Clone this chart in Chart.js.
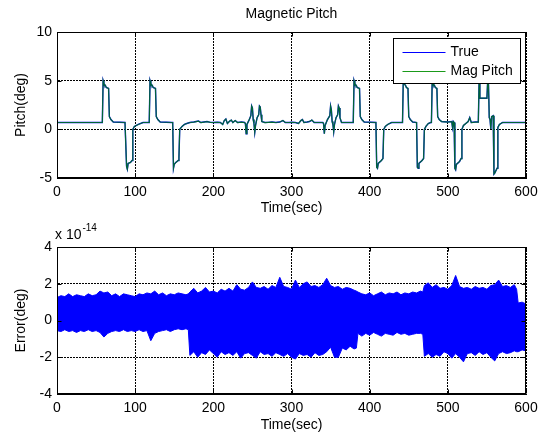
<!DOCTYPE html>
<html>
<head>
<meta charset="utf-8">
<script src="https://cdn.jsdelivr.net/npm/chart.js@4/dist/chart.umd.min.js"></script>
<style>
html, body { margin: 0; padding: 0; background: #fff; }
#wrap { position: relative; width: 550px; height: 435px; }
canvas { position: absolute; left: 0; }
#top { top: 0; }
#bottom { top: 218px; }
</style>
</head>
<body>
<div id="wrap">
  <canvas id="top" width="550" height="218"></canvas>
  <canvas id="bottom" width="550" height="217"></canvas>
</div>
<script>
// pitch (deg) breakpoints
const pitchTime = [0, 58, 59, 60, 62, 63, 66, 67, 69, 72, 87, 89, 90, 91, 94, 96, 97, 99, 104, 110,
  118, 119, 120, 122, 123, 126, 127, 129, 132, 147, 148, 149, 150, 152, 155, 156, 157, 160, 163, 166,
  170, 175, 178, 181, 184, 188, 192, 196, 200, 205, 209, 212, 214, 216, 218, 221, 223, 225, 228, 231, 236, 240,
  241, 242, 243, 246, 248, 249, 250, 251, 252, 253, 254, 256, 258, 259, 260, 261, 262, 266,
  270, 275, 280, 285, 289, 292, 297, 300, 305, 309, 312, 314, 316, 320, 323, 326, 329, 334, 340,
  341, 342, 343, 346, 349, 350, 351, 352, 353, 354, 355, 357, 359, 360, 361, 362, 364, 379,
  380, 381, 383, 384, 387, 388, 390, 393, 408, 409, 410, 411, 415, 417, 418, 420, 423, 428,
  442, 443, 444, 446, 447, 449, 450, 452, 455, 460, 461, 462, 463, 467, 469, 470, 472, 475, 478,
  479, 480, 481, 483, 484, 486, 487, 489, 492, 500, 505, 506, 507, 508, 509, 510, 511, 515, 517, 518,
  520, 523, 526, 528, 530, 535, 539, 540, 541, 550, 551, 552, 553, 554, 555, 556, 558, 559, 560, 563,
  564, 566, 570, 600];
const pitchDeg = [0.7, 0.7, 5.0, 4.7, 4.5, 4.3, 4.2, 1.3, 1.0, 0.75, 0.7, -3.8, -4.1, -3.5, -3.4, -3.2, 0.0, 0.3, 0.5, 0.7,
  0.7, 5.0, 4.7, 4.5, 4.3, 4.2, 1.3, 1.0, 0.75, 0.7, 0.7, -4.0, -3.6, -3.4, -3.2, -2.9, 0.0, 0.3, 0.5, 0.6,
  0.7, 0.75, 0.8, 0.85, 0.7, 0.75, 0.8, 0.72, 0.7, 0.72, 0.7, 0.5, 0.9, 1.05, 0.6, 0.85, 0.95, 0.7, 0.9, 0.7, 0.75, 0.7,
  0.6, -0.45, 0.5, 1.0, 1.4, 2.4, 2.2, 1.0, 0.6, -0.3, 0.4, 1.2, 1.5, 2.4, 2.3, 1.5, 0.8, 0.7,
  0.72, 0.75, 0.7, 0.75, 0.9, 0.7, 0.7, 0.72, 0.7, 0.6, 0.9, 1.0, 0.7, 0.75, 0.8, 0.95, 0.7, 0.7, 0.7,
  0.6, -0.45, 0.4, 1.0, 1.4, 2.4, 2.0, 0.8, 0.5, -0.25, 0.5, 1.2, 1.5, 2.4, 2.2, 1.2, 0.7, 0.7,
  5.0, 4.7, 4.5, 4.3, 4.2, 1.3, 1.0, 0.75, 0.7, -3.9, -4.0, -3.5, -3.2, -3.0, 0.0, 0.3, 0.5, 0.7,
  0.7, 5.0, 4.7, 4.5, 4.3, 4.2, 1.3, 1.0, 0.75, 0.7, -3.9, -4.0, -3.5, -3.2, -3.0, 0.0, 0.3, 0.6, 0.7,
  0.7, 5.0, 4.7, 4.5, 4.3, 4.2, 1.3, 1.0, 0.8, 0.75, 0.8, 0.2, 0.8, 0.7, -4.0, -4.15, -3.6, -3.3, -3.0, 0.0,
  0.4, 0.6, 0.8, 1.2, 0.7, 0.75, 0.75, 5.0, 3.2, 3.2, 5.0, 4.6, 1.2, 1.0, 0.05, 1.3, 1.4, -4.6, -4.5, -4.0,
  0.2, 0.5, 0.7, 0.7];

// error envelope (x 1e-14 deg)
const errTime = [0, 5, 10, 15, 20, 25, 30, 35, 40, 45, 50, 55, 60, 65, 70, 75, 80, 85, 90, 95,
  100, 105, 110, 115, 120, 125, 130, 135, 140, 145, 150, 155, 160, 165, 168, 170, 175, 180, 185, 190,
  195, 200, 205, 210, 215, 220, 225, 230, 235, 240, 245, 250, 255, 260, 265, 270, 275, 280, 285, 290,
  295, 300, 305, 310, 315, 320, 325, 330, 335, 340, 345, 350, 355, 360, 365, 370, 375, 380, 383, 385,
  390, 395, 400, 405, 410, 415, 420, 425, 430, 435, 440, 445, 450, 455, 460, 465, 468, 470, 475, 480,
  485, 490, 495, 500, 505, 510, 515, 520, 525, 530, 535, 540, 545, 550, 555, 560, 565, 570, 575, 580,
  585, 588, 590, 595, 600];
const errUpper = [1.25, 1.35, 1.3, 1.45, 1.3, 1.4, 1.35, 1.3, 1.45, 1.35, 1.4, 1.6, 1.5, 1.55, 1.35, 1.45, 1.3, 1.45, 1.4, 1.35,
  1.3, 1.45, 1.4, 1.5, 1.45, 1.6, 1.4, 1.5, 1.35, 1.45, 1.4, 1.5, 1.45, 1.4, 1.45, 1.55, 1.75, 1.5, 1.6, 1.8,
  1.55, 1.6, 1.5, 1.7, 1.6, 1.75, 1.6, 1.95, 1.7, 1.65, 1.8, 2.1, 1.8, 1.75, 1.85, 1.7, 1.9, 1.8, 2.35, 1.85,
  1.8, 1.7, 2.2, 1.8, 2.0, 2.1, 1.85, 1.9, 1.8, 1.95, 2.3, 1.9, 1.8, 1.85, 1.7, 1.8, 1.75, 1.65, 1.6, 1.55,
  1.45, 1.4, 1.5, 1.35, 1.45, 1.55, 1.4, 1.5, 1.45, 1.55, 1.4, 1.5, 1.45, 1.55, 1.5, 1.6, 1.55, 1.9, 2.05, 1.8,
  1.95, 1.75, 1.8, 1.7, 1.9, 2.45, 1.85, 1.75, 1.8, 1.7, 1.85, 1.75, 1.8, 1.7, 1.9, 1.95, 2.2, 1.85, 1.9, 1.8,
  1.95, 1.7, 0.95, 1.0, 0.9];
const errLower = [-0.55, -0.6, -0.5, -0.6, -0.55, -0.65, -0.55, -0.6, -0.5, -0.6, -0.55, -0.65, -0.9, -0.7, -0.6, -0.55, -0.6, -0.5, -0.6, -0.55,
  -0.6, -0.5, -0.6, -0.55, -1.1, -0.7, -0.6, -0.55, -0.5, -0.6, -0.5, -0.45, -0.5, -0.45, -0.5, -1.9, -1.7, -2.0, -1.75, -1.85,
  -1.6, -1.8, -2.0, -1.7, -1.85, -1.75, -1.9, -1.7, -2.05, -1.8, -1.75, -1.9, -2.05, -1.7, -1.85, -1.8, -1.95, -1.75, -1.85, -1.95,
  -1.8, -2.0, -2.1, -1.8, -1.9, -1.85, -2.0, -1.75, -1.9, -1.85, -1.7, -1.45, -2.0, -2.0, -1.5, -1.6, -1.4, -1.55, -1.5, -0.7,
  -0.85, -0.7, -0.8, -0.65, -0.75, -0.85, -0.7, -0.75, -0.8, -0.65, -0.75, -0.7, -0.8, -0.75, -0.7, -0.7, -0.75, -1.95, -1.8, -2.0,
  -1.85, -1.95, -1.7, -1.8, -2.05, -1.8, -2.0, -2.25, -1.8, -1.75, -1.9, -1.7, -1.85, -1.75, -2.0, -2.2, -1.8, -1.7, -1.8, -1.75,
  -1.65, -1.7, -1.7, -1.6, -1.65];

const xTicks = { min: 0, max: 600, step: 100 };
const pitchTicks = { min: -5, max: 10, step: 5 };
const errTicks = { min: -4, max: 4, step: 2 };

const fontfam = "'Liberation Sans', Arial, Helvetica, sans-serif";
Chart.defaults.font.family = fontfam;
Chart.defaults.font.size = 14;
Chart.defaults.color = '#000';

const toPts = (xs, ys) => xs.map((x, i) => ({ x: x, y: ys[i] }));

// axes box + inward ticks, like the matlab figure
const framePlugin = {
    id: 'frame',
    afterDraw(chart) {
        const { ctx, chartArea: a, scales } = chart;
        const l = Math.round(a.left) + 0.5, r = Math.round(a.right) - 0.5;
        const t = Math.round(a.top) + 0.5, b = Math.round(a.bottom) - 0.5;
        ctx.save();
        ctx.strokeStyle = '#000';
        ctx.lineWidth = 1;
        ctx.strokeRect(l, t, r - l, b - t);
        ctx.beginPath();
        for (const tk of scales.x.ticks) {
            const px = Math.round(scales.x.getPixelForValue(tk.value)) + 0.5;
            ctx.moveTo(px, b); ctx.lineTo(px, b - 4);
            ctx.moveTo(px, t); ctx.lineTo(px, t + 4);
        }
        for (const tk of scales.y.ticks) {
            const py = Math.round(scales.y.getPixelForValue(tk.value)) + 0.5;
            ctx.moveTo(l, py); ctx.lineTo(l + 4, py);
            ctx.moveTo(r, py); ctx.lineTo(r - 4, py);
        }
        ctx.stroke();
        ctx.restore();
    }
};

const boxLegend = {
    id: 'boxLegend',
    afterDraw(chart) {
        const { ctx, chartArea: a } = chart;
        const w = 127, h = 45;
        const x0 = Math.round(a.right) - 6 - w + 0.5, y0 = Math.round(a.top) + 6 + 0.5;
        ctx.save();
        ctx.fillStyle = '#fff';
        ctx.fillRect(x0, y0, w, h);
        ctx.strokeStyle = '#000';
        ctx.lineWidth = 1;
        ctx.strokeRect(x0, y0, w, h);
        ctx.font = '14px ' + fontfam;
        ctx.textBaseline = 'middle';
        ctx.fillStyle = '#000';
        chart.data.datasets.forEach((ds, i) => {
            const yy = Math.round(y0 + 13 + i * 19.5) + 0.5;
            ctx.strokeStyle = ds.legendColor;
            ctx.beginPath();
            ctx.moveTo(x0 + 9, yy);
            ctx.lineTo(x0 + 52, yy);
            ctx.stroke();
            ctx.fillText(ds.label, x0 + 57, yy);
        });
        ctx.restore();
    }
};

const exponentLabel = {
    id: 'exponentLabel',
    afterDraw(chart) {
        const { ctx } = chart;
        ctx.save();
        ctx.fillStyle = '#000';
        ctx.textBaseline = 'middle';
        ctx.font = '14px ' + fontfam;
        ctx.fillText('x 10', 55, 17);
        const w = ctx.measureText('x 10').width;
        ctx.font = '10px ' + fontfam;
        ctx.fillText('-14', 55 + w + 1, 10);
        ctx.restore();
    }
};

const gridOpts = { color: '#000', lineWidth: 1, drawTicks: false };
const borderOpts = { display: true, color: '#000', dash: [2, 1] };

const xScale = (h) => ({
    type: 'linear',
    min: xTicks.min, max: xTicks.max,
    afterFit: s => { s.height = h; },
    ticks: { stepSize: xTicks.step, padding: 6, maxRotation: 0, autoSkip: false },
    grid: gridOpts,
    border: borderOpts,
    title: { display: true, text: 'Time(sec)', padding: { top: 0, bottom: 1 } }
});

const yScale = (tk, label) => ({
    min: tk.min, max: tk.max,
    afterFit: s => { s.width = 57; },
    ticks: { stepSize: tk.step, padding: 5 },
    grid: gridOpts,
    border: borderOpts,
    title: { display: true, text: label, padding: { top: 13, bottom: 0 } }
});

new Chart(document.getElementById('top'), {
    type: 'line',
    data: {
        datasets: [
            // blue underneath, green drawn over it (lower order = drawn on top)
            { label: 'True', order: 1, data: toPts(pitchTime, pitchDeg), borderColor: '#0000ff', legendColor: '#0000ff', borderWidth: 1.4 },
            { label: 'Mag Pitch', order: 0, data: toPts(pitchTime, pitchDeg), borderColor: 'rgba(0,128,0,0.78)', legendColor: '#1a9a1a', borderWidth: 1.2 }
        ]
    },
    options: {
        responsive: false,
        animation: false,
        devicePixelRatio: 1,
        layout: { padding: { left: 0, right: 24, top: 0, bottom: 0 } },
        elements: { point: { radius: 0 }, line: { tension: 0 } },
        plugins: {
            legend: { display: false },
            tooltip: { enabled: false },
            title: { display: true, text: 'Magnetic Pitch', fullSize: false, font: { size: 14, weight: 'normal' }, color: '#000', padding: { top: 6, bottom: 9.2 } }
        },
        scales: { x: xScale(40), y: yScale(pitchTicks, 'Pitch(deg)') }
    },
    plugins: [framePlugin, boxLegend]
});

new Chart(document.getElementById('bottom'), {
    type: 'line',
    data: {
        datasets: [
            { label: 'upper', data: toPts(errTime, errUpper), borderColor: '#0000ff', backgroundColor: '#0000ff', borderWidth: 1, fill: '+1' },
            { label: 'lower', data: toPts(errTime, errLower), borderColor: '#0000ff', borderWidth: 1, fill: false }
        ]
    },
    options: {
        responsive: false,
        animation: false,
        devicePixelRatio: 1,
        layout: { padding: { left: 0, right: 24, top: 29, bottom: 0 } },
        elements: { point: { radius: 0 }, line: { tension: 0 } },
        plugins: { legend: { display: false }, tooltip: { enabled: false } },
        scales: { x: xScale(41), y: yScale(errTicks, 'Error(deg)') }
    },
    plugins: [framePlugin, exponentLabel]
});
</script>
</body>
</html>
